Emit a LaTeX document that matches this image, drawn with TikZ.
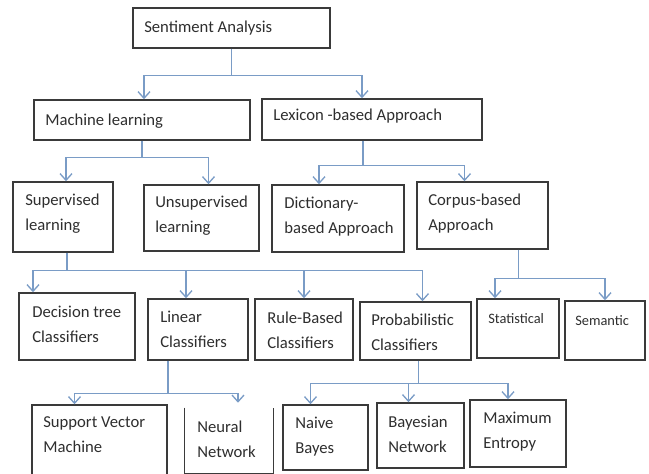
\documentclass[tikz,border=0pt]{standalone}
\usepackage{fontspec}
\setmainfont{Carlito}
\usetikzlibrary{arrows.meta,calc,fit}
\definecolor{linkc}{HTML}{7A9CC6}
\definecolor{boxc}{HTML}{3A3A3A}
\definecolor{txtc}{HTML}{2E2E2E}
\begin{document}
\begin{tikzpicture}[x=0.75pt,y=-0.75pt,
  box/.style={draw=boxc, line width=1.1pt, inner sep=0pt},
  openbox/.style={inner sep=0pt},
  boxline/.style={draw=boxc, line width=1.1pt},
  link/.style={draw=linkc, line width=1pt},
  arr/.style={link, -{Straight Barb[length=5pt,width=9pt]}},
  txt/.style={anchor=north west, inner sep=0pt, align=left, text=txtc,
    font=\fontsize{12.5}{18.75}\selectfont},
  stxt/.style={txt, font=\fontsize{10.8}{14}\selectfont}]
\useasboundingbox (0,0) rectangle (649,474);
% boxes
\node[box, fit={(133,8) (330,48)}] (sa) {};
\node[box, fit={(34,100) (250,140)}] (ml) {};
\node[box, fit={(262,99) (482,140)}] (lex) {};
\node[box, fit={(13,182) (113,252)}] (sup) {};
\node[box, fit={(144,185) (259,251)}] (uns) {};
\node[box, fit={(272,185) (404,252)}] (dict) {};
\node[box, fit={(417,182) (548,249)}] (corp) {};
\node[box, fit={(19,293) (135,360)}] (dt) {};
\node[box, fit={(148,299) (248,360)}] (lin) {};
\node[box, fit={(255,299) (353,360)}] (rule) {};
\node[box, fit={(360,302) (471,360)}] (prob) {};
\node[box, fit={(477,299) (559,358)}] (stat) {};
\node[box, fit={(565,301) (645,360)}] (sem) {};
\node[box, fit={(32,405) (167,482)}] (svm) {};
\node[openbox, fit={(185,408) (273,473)}] (nn) {};
\draw[boxline] (nn.north west) -- (nn.south west) -- (nn.south east) -- (nn.north east);
\node[box, fit={(283,405) (368,470)}] (nb) {};
\node[box, fit={(377,403) (464,468)}] (bn) {};
\node[box, fit={(470,400) (566,467)}] (me) {};
% texts
\node[txt] (sa-t) at (144,21) {Sentiment Analysis};
\node[txt] (ml-t) at (45,114) {Machine learning};
\node[txt] (lex-t) at (273,109) {Lexicon -based Approach};
\node[txt] (sup-t) at (25,194) {Supervised\\learning};
\node[txt] (uns-t) at (155,196) {Unsupervised\\learning};
\node[txt] (dict-t) at (284,197) {Dictionary-\\based Approach};
\node[txt] (corp-t) at (428,194) {Corpus-based\\Approach};
\node[txt] (dt-t) at (32,306) {Decision tree\\Classifiers};
\node[txt] (lin-t) at (160,311) {Linear\\Classifiers};
\node[txt] (rule-t) at (267,312) {Rule-Based\\Classifiers};
\node[txt] (prob-t) at (371,314) {Probabilistic\\Classifiers};
\node[stxt] (stat-t) at (488,313) {Statistical};
\node[stxt] (sem-t) at (575,315) {Semantic};
\node[txt] (svm-t) at (43,416) {Support Vector\\Machine};
\node[txt] (nn-t) at (197,421) {Neural\\Network};
\node[txt] (nb-t) at (295,417) {Naive\\Bayes};
\node[txt] (bn-t) at (388,416) {Bayesian\\Network};
\node[txt] (me-t) at (483,412) {Maximum\\Entropy};
% connectors
\draw[link] (sa.south) -- ++(0,27) coordinate (j1);
\draw[arr] (j1) -| ($(ml.north)+(2,0)$);
\draw[arr] (j1) -| ($(lex.north)+(-10,0)$);
\draw[link] (ml.south) -- ++(0,17) coordinate (j2);
\draw[arr] (j2) -| ($(sup.north)+(3,0)$);
\draw[arr] (j2) -| ($(uns.north)+(7,0)$);
\draw[link] ($(lex.south)+(-9,0)$) -- ++(0,25) coordinate (j3);
\draw[arr] (j3) -| ($(dict.north)+(-19,0)$);
\draw[arr] (j3) -| ($(corp.north)+(-18,0)$);
\draw[link] ($(sup.south)+(4,0)$) -- ++(0,18) coordinate (j4);
\draw[arr] (j4) -| ($(dt.north)+(-44,0)$);
\draw[arr] (j4) -| ($(lin.north)+(-12,0)$);
\draw[arr] (j4) -| (rule.north);
\draw[arr] (j4) -| ($(prob.north)+(7,0)$);
\draw[link] ($(corp.south)+(36,0)$) -- ++(0,29) coordinate (j5);
\draw[arr] (j5) -| ($(stat.north)+(-23,0)$);
\draw[arr] (j5) -| (sem.north);
\draw[link] ($(lin.south)+(-30,0)$) -- ++(0,33) coordinate (j6);
\draw[arr] (j6) -| ($(svm.north)+(-25,0)$);
\draw[arr] (j6) -| ($(nn.north)+(9,-5)$);
\draw[link] ($(prob.south)+(3,0)$) -- ++(0,23) coordinate (j7);
\draw[arr] (j7) -| ($(nb.north)+(-15,0)$);
\draw[arr] (j7) -| ($(bn.north)+(-12,0)$);
\draw[arr] (j7) -| ($(me.north)+(-10,0)$);
\end{tikzpicture}
\end{document}
